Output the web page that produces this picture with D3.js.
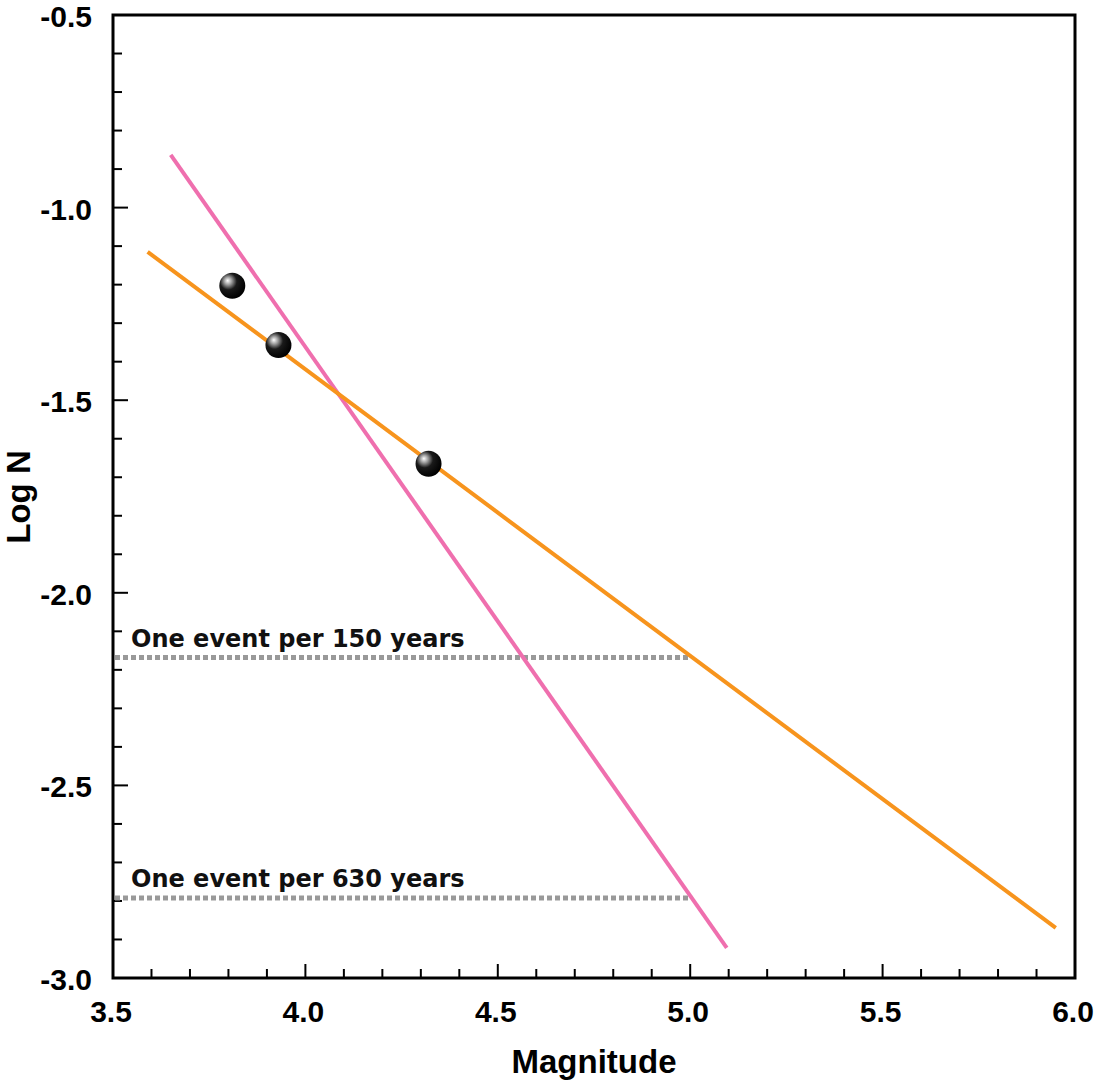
<!DOCTYPE html>
<html>
  <head>
    <meta charset="utf-8">
    <title>Log N vs Magnitude</title>
    <script src="https://cdn.jsdelivr.net/npm/d3@7"></script>
    <style>
      body { margin: 0; background: #fff; }
      .tick-label { font-family: "Liberation Sans", Arial, sans-serif; font-weight: bold; font-size: 30px; fill: #000; }
      .axis-title { font-family: "Liberation Sans", Arial, sans-serif; font-weight: bold; font-size: 33px; fill: #000; }
      .note { font-family: "DejaVu Sans", Verdana, sans-serif; font-weight: bold; font-size: 24px; fill: #111; }
    </style>
  </head>

  <body>
    <svg id="chart" width="1097" height="1083"></svg>

    <script>
      // data
      const xTicks = [3.5, 4.0, 4.5, 5.0, 5.5, 6.0];
      const yTicks = [-0.5, -1.0, -1.5, -2.0, -2.5, -3.0];
      const pointMag = [3.81, 3.93, 4.32];
      const pointLogN = [-1.203, -1.357, -1.665];
      const orangeMag = [3.59, 5.95];
      const orangeLogN = [-1.115, -2.87];
      const pinkMag = [3.65, 5.095];
      const pinkLogN = [-0.863, -2.922];
      const eventLabels = ["One event per 150 years", "One event per 630 years"];
      const eventLogN = [-2.168, -2.792];
      const eventMagEnd = 5.0;

      // layout
      const chart = d3.select("#chart");
      const pLeft = 113, pRight = 1075, pTop = 15, pBottom = 978;

      const x = d3.scaleLinear().domain([3.5, 6.0]).range([pLeft, pRight]);
      const y = d3.scaleLinear().domain([-0.5, -3.0]).range([pTop, pBottom]);

      // gradient for the ball markers
      const grad = chart.append("defs").append("radialGradient")
        .attr("id", "ball")
        .attr("cx", "38%").attr("cy", "36%").attr("r", "65%")
        .attr("fx", "32%").attr("fy", "30%");
      grad.append("stop").attr("offset", "0%").attr("stop-color", "#ffffff");
      grad.append("stop").attr("offset", "22%").attr("stop-color", "#a0a0a0");
      grad.append("stop").attr("offset", "50%").attr("stop-color", "#1a1a1a");
      grad.append("stop").attr("offset", "100%").attr("stop-color", "#000000");

      // minor ticks
      const xMinor = d3.range(36, 60).map(function(d) { return d / 10; });
      const yMinor = d3.range(-29, -5).map(function(d) { return d / 10; });
      const isMajor = function(d) { return Math.abs(d * 2 - Math.round(d * 2)) < 1e-6; };

      chart.append("g").selectAll("line")
        .data(xMinor)
        .enter().append("line")
          .attr("x1", function(d) { return x(d); })
          .attr("x2", function(d) { return x(d); })
          .attr("y1", pBottom)
          .attr("y2", function(d) { return isMajor(d) ? pBottom - 14 : pBottom - 9; })
          .attr("stroke", "#000").attr("stroke-width", 2);

      chart.append("g").selectAll("line")
        .data(yMinor)
        .enter().append("line")
          .attr("y1", function(d) { return y(d); })
          .attr("y2", function(d) { return y(d); })
          .attr("x1", pLeft)
          .attr("x2", function(d) { return isMajor(d) ? pLeft + 15 : pLeft + 9; })
          .attr("stroke", "#000").attr("stroke-width", 2);

      // frame
      chart.append("rect")
        .attr("x", pLeft).attr("y", pTop)
        .attr("width", pRight - pLeft).attr("height", pBottom - pTop)
        .attr("fill", "none").attr("stroke", "#000").attr("stroke-width", 3);

      // tick labels
      chart.append("g").selectAll("text")
        .data(xTicks)
        .enter().append("text")
          .classed("tick-label", true)
          .attr("x", function(d) { return x(d) - 2; })
          .attr("y", pBottom + 44)
          .attr("text-anchor", "middle")
          .text(function(d) { return d3.format(".1f")(d); });

      chart.append("g").selectAll("text")
        .data(yTicks)
        .enter().append("text")
          .classed("tick-label", true)
          .attr("x", pLeft - 21)
          .attr("y", function(d) { return y(d) + 12; })
          .attr("text-anchor", "end")
          .text(function(d) { return d3.format(".1f")(d).replace("−", "-"); });

      // axis titles
      chart.append("text")
        .classed("axis-title", true)
        .attr("x", 594).attr("y", 1073)
        .attr("text-anchor", "middle")
        .text("Magnitude");

      chart.append("text")
        .classed("axis-title", true)
        .attr("transform", "translate(30,497) rotate(-90)")
        .attr("text-anchor", "middle")
        .text("Log N");

      // event reference lines
      chart.append("g").selectAll("line")
        .data(eventLogN)
        .enter().append("line")
          .attr("x1", x(3.5) + 2).attr("x2", x(eventMagEnd))
          .attr("y1", function(d) { return y(d); })
          .attr("y2", function(d) { return y(d); })
          .attr("stroke", "#999").attr("stroke-width", 5)
          .attr("stroke-dasharray", "5,3");

      chart.append("g").selectAll("text")
        .data(eventLabels)
        .enter().append("text")
          .classed("note", true)
          .attr("x", 131)
          .attr("y", function(d, i) { return y(eventLogN[i]) - 11; })
          .text(function(d) { return d; });

      // fit lines
      const line = d3.line()
        .x(function(d) { return x(d[0]); })
        .y(function(d) { return y(d[1]); });

      chart.append("path")
        .attr("d", line(d3.zip(pinkMag, pinkLogN)))
        .attr("stroke", "#ef6fae").attr("stroke-width", 4).attr("fill", "none");

      chart.append("path")
        .attr("d", line(d3.zip(orangeMag, orangeLogN)))
        .attr("stroke", "#f7941d").attr("stroke-width", 4).attr("fill", "none");

      // observed points
      chart.append("g").selectAll("circle")
        .data(d3.zip(pointMag, pointLogN))
        .enter().append("circle")
          .attr("cx", function(d) { return x(d[0]); })
          .attr("cy", function(d) { return y(d[1]); })
          .attr("r", 13)
          .attr("fill", "url(#ball)");
    </script>
  </body>
</html>
